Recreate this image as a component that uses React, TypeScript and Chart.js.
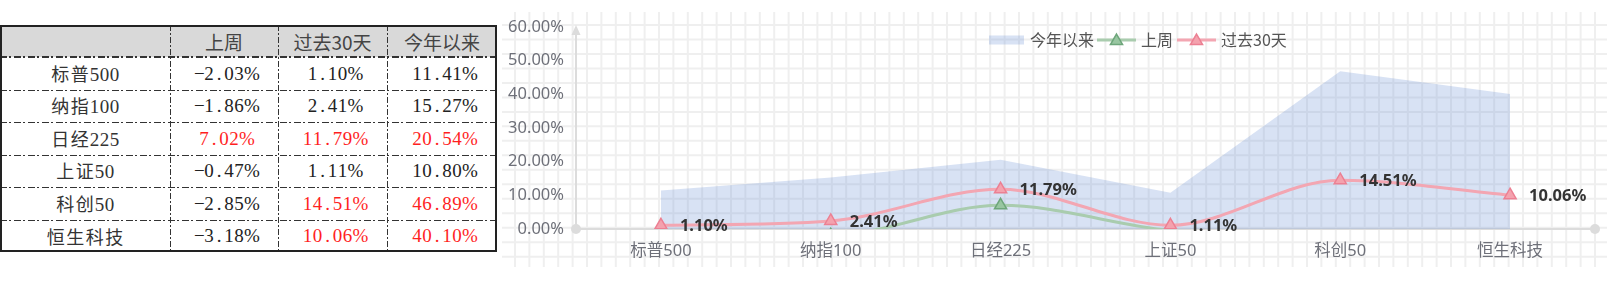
import React, { useEffect, useRef } from 'react';
import { Chart, registerables } from 'chart.js';

Chart.register(...registerables);

// ---------- data ----------
const categories = ['标普500', '纳指100', '日经225', '上证50', '科创50', '恒生科技'];
const lastWeek = [-2.03, -1.86, 7.02, -0.47, -2.85, -3.18];
const past30 = [1.1, 2.41, 11.79, 1.11, 14.51, 10.06];
const ytd = [11.41, 15.27, 20.54, 10.8, 46.89, 40.1];
const tableHeaders = ['上周', '过去30天', '今年以来'];
const seriesNames = ['今年以来', '上周', '过去30天'];
const yTickValues = [0, 10, 20, 30, 40, 50, 60];

// ---------- styles ----------
const AREA_FILL = 'rgba(100,140,210,0.25)';
const GREEN_LINE = '#a9ccae';
const GREEN_PT = '#98c6a1';
const GREEN_PT_BORDER = '#6ea67b';
const PINK_LINE = '#f3a6b2';
const PINK_PT = '#f4a2ae';
const PINK_PT_BORDER = '#ec8093';
const AXIS_COLOR = '#dcdcdc';
const LABEL_COLOR = '#6e7079';
const SANS = "'Noto Sans', 'Noto Sans CJK SC', sans-serif";
const HEADER_FONT = "'Noto Sans CJK SC', 'Noto Sans', sans-serif";
const SERIF = "'Liberation Serif', 'Noto Sans CJK SC', serif";

Chart.defaults.font.family = SANS;
Chart.defaults.font.size = 16.5;
Chart.defaults.color = LABEL_COLOR;

const fmt = (v: number) => v.toFixed(2) + '%';

function topPositive(col: number[]) {
  const sorted = [...col].sort((a, b) => b - a).slice(0, 3);
  return col.map((v) => v > 0 && sorted.includes(v));
}

const tableCols = [lastWeek, past30, ytd];
const redFlags = tableCols.map(topPositive);

// ---------- table geometry ----------
const colX = [0, 170, 278, 387, 497];
const rowY = [25, 57, 90, 122, 155, 187, 220, 252];

const hDash =
  'repeating-linear-gradient(to right, #333 0px, #333 7px, transparent 7px, transparent 9.5px, #333 9.5px, #333 11.5px, transparent 11.5px, transparent 14px)';
const vDash =
  'repeating-linear-gradient(to bottom, #333 0px, #333 6px, transparent 6px, transparent 8px, #333 8px, #333 10px, transparent 10px, transparent 12px)';

// Fixed-pitch text (like SimSun): half-width for ASCII, full width for CJK
function PitchText({ text, color }: { text: string; color: string }) {
  return (
    <span style={{ whiteSpace: 'nowrap', color }}>
      {Array.from(text).map((ch, i) => {
        const cjk = ch.charCodeAt(0) > 0x2e80;
        return (
          <span
            key={i}
            style={{
              display: 'inline-block',
              width: cjk ? 19.5 : 10,
              textAlign: 'center',
              fontFamily: cjk ? "'Noto Sans CJK SC', sans-serif" : SERIF,
              fontSize: cjk ? 18 : 19,
              lineHeight: '22px',
            }}
          >
            {ch === '-' ? '\u2212' : ch}
          </span>
        );
      })}
    </span>
  );
}

function Table() {
  const cells: React.ReactNode[] = [];
  cells.push(
    <div
      key="hbg"
      style={{
        position: 'absolute',
        left: colX[0],
        top: rowY[0],
        width: colX[4] - colX[0],
        height: rowY[1] - rowY[0],
        background: '#d9d9d9',
      }}
    />
  );
  tableHeaders.forEach((h, i) => {
    cells.push(
      <div
        key={'h' + i}
        style={{
          position: 'absolute',
          left: colX[i + 1],
          top: rowY[0],
          width: colX[i + 2] - colX[i + 1],
          height: rowY[1] - rowY[0],
          display: 'flex',
          alignItems: 'center',
          justifyContent: 'center',
          fontFamily: HEADER_FONT,
          fontSize: 19,
          color: '#444',
        }}
      >
        {h}
      </div>
    );
  });
  const cellStyle = (x0: number, x1: number, y0: number, y1: number): React.CSSProperties => ({
    position: 'absolute',
    left: x0,
    top: y0,
    width: x1 - x0,
    height: y1 - y0,
    display: 'flex',
    alignItems: 'center',
    justifyContent: 'center',
  });
  categories.forEach((c, r) => {
    cells.push(
      <div key={'c' + r} style={cellStyle(colX[0], colX[1], rowY[r + 1], rowY[r + 2])}>
        <PitchText text={c} color="#333" />
      </div>
    );
    tableCols.forEach((col, ci) => {
      cells.push(
        <div key={'v' + r + '-' + ci} style={cellStyle(colX[ci + 1], colX[ci + 2], rowY[r + 1], rowY[r + 2])}>
          <PitchText text={fmt(col[r])} color={redFlags[ci][r] ? '#ff1f1f' : '#222'} />
        </div>
      );
    });
  });
  for (let i = 1; i < rowY.length - 1; i++) {
    cells.push(
      <div
        key={'hl' + i}
        style={{
          position: 'absolute',
          left: colX[0],
          top: rowY[i] - (i === 1 ? 1 : 0),
          width: colX[4] - colX[0],
          height: i === 1 ? 2 : 1,
          background: hDash,
        }}
      />
    );
  }
  for (let i = 1; i < colX.length - 1; i++) {
    cells.push(
      <div
        key={'vl' + i}
        style={{
          position: 'absolute',
          left: colX[i],
          top: rowY[0],
          width: 1,
          height: rowY[rowY.length - 1] - rowY[0],
          background: vDash,
        }}
      />
    );
  }
  cells.push(
    <div
      key="border"
      style={{
        position: 'absolute',
        left: colX[0],
        top: rowY[0],
        width: colX[4] - colX[0],
        height: rowY[rowY.length - 1] - rowY[0],
        border: '2px solid #222',
        boxSizing: 'border-box',
      }}
    />
  );
  return <>{cells}</>;
}

// ---------- chart ----------
const CANVAS_LEFT = 500;
const CANVAS_W = 1107;
const CANVAS_H = 285;

function drawTriangle(ctx: CanvasRenderingContext2D, x: number, y: number, r: number, fill: string, stroke: string) {
  ctx.beginPath();
  let rad = 0;
  for (let i = 0; i < 3; i++) {
    const px = x + Math.sin(rad) * r;
    const py = y - Math.cos(rad) * r;
    if (i === 0) ctx.moveTo(px, py);
    else ctx.lineTo(px, py);
    rad += (2 * Math.PI) / 3;
  }
  ctx.closePath();
  ctx.fillStyle = fill;
  ctx.fill();
  ctx.lineWidth = 1.5;
  ctx.strokeStyle = stroke;
  ctx.stroke();
}

const bgGridPlugin = {
  id: 'bgGrid',
  beforeDraw(chart: any) {
    const ctx = chart.ctx as CanvasRenderingContext2D;
    ctx.save();
    ctx.strokeStyle = '#efefef';
    ctx.lineWidth = 2;
    const top = 12;
    const bottom = 267;
    for (let x = 15; x <= CANVAS_W + 1; x += 14.4) {
      ctx.beginPath();
      ctx.moveTo(x, top);
      ctx.lineTo(x, bottom);
      ctx.stroke();
    }
    for (let y = 25; y <= bottom; y += 14.48) {
      ctx.beginPath();
      ctx.moveTo(2, y);
      ctx.lineTo(CANVAS_W, y);
      ctx.stroke();
    }
    ctx.restore();
  },
};

const axesPlugin = {
  id: 'customAxes',
  beforeDatasetsDraw(chart: any) {
    const ctx = chart.ctx as CanvasRenderingContext2D;
    const { left, right, top, bottom } = chart.chartArea;
    ctx.save();
    ctx.strokeStyle = AXIS_COLOR;
    ctx.fillStyle = AXIS_COLOR;
    ctx.lineWidth = 2;
    ctx.beginPath();
    ctx.moveTo(left, bottom);
    ctx.lineTo(left, top + 4);
    ctx.stroke();
    ctx.beginPath();
    ctx.moveTo(left, top - 2);
    ctx.lineTo(left - 4.5, top + 8);
    ctx.lineTo(left + 4.5, top + 8);
    ctx.closePath();
    ctx.fill();
    ctx.beginPath();
    ctx.moveTo(left, bottom);
    ctx.lineTo(right, bottom);
    ctx.stroke();
    ctx.beginPath();
    ctx.arc(left, bottom, 5, 0, Math.PI * 2);
    ctx.fill();
    ctx.beginPath();
    ctx.arc(right, bottom, 5, 0, Math.PI * 2);
    ctx.fill();
    ctx.restore();
  },
};

const labelsPlugin = {
  id: 'pointLabels',
  afterDatasetsDraw(chart: any) {
    const ctx = chart.ctx as CanvasRenderingContext2D;
    const idx = chart.data.datasets.findIndex((d: any) => d.label === '过去30天');
    const meta = chart.getDatasetMeta(idx);
    ctx.save();
    ctx.font = `bold 16.5px ${SANS}`;
    ctx.fillStyle = '#333';
    ctx.textAlign = 'left';
    ctx.textBaseline = 'middle';
    meta.data.forEach((pt: any, i: number) => {
      ctx.fillText(fmt(past30[i]), pt.x + 19, pt.y + 1);
    });
    ctx.restore();
  },
};

const legendPlugin = {
  id: 'customLegend',
  afterDraw(chart: any) {
    const ctx = chart.ctx as CanvasRenderingContext2D;
    ctx.save();
    ctx.font = `16px ${HEADER_FONT}`;
    ctx.textBaseline = 'middle';
    ctx.textAlign = 'left';
    const cy = 40;
    let x = 489;
    ctx.fillStyle = AREA_FILL;
    ctx.fillRect(x, cy - 4.5, 35, 9);
    x += 35 + 6;
    ctx.fillStyle = '#555';
    ctx.fillText(seriesNames[0], x, cy);
    x += ctx.measureText(seriesNames[0]).width + 3;
    const lineItems = [
      { name: seriesNames[1], line: GREEN_LINE, pt: GREEN_PT, border: GREEN_PT_BORDER },
      { name: seriesNames[2], line: PINK_LINE, pt: PINK_PT, border: PINK_PT_BORDER },
    ];
    lineItems.forEach((it) => {
      ctx.strokeStyle = it.line;
      ctx.lineWidth = 3;
      ctx.beginPath();
      ctx.moveTo(x, cy);
      ctx.lineTo(x + 39, cy);
      ctx.stroke();
      drawTriangle(ctx, x + 19.5, cy + 1, 7, it.pt, it.border);
      x += 39 + 5;
      ctx.fillStyle = '#555';
      ctx.fillText(it.name, x, cy);
      x += ctx.measureText(it.name).width + 4;
    });
    ctx.restore();
  },
};

function LineChart() {
  const ref = useRef<HTMLCanvasElement | null>(null);
  useEffect(() => {
    if (!ref.current) return;
    const chart = new Chart(ref.current, {
      type: 'line',
      data: {
        labels: categories,
        datasets: [
          {
            label: '过去30天',
            data: past30,
            order: 1,
            borderColor: PINK_LINE,
            borderWidth: 3,
            cubicInterpolationMode: 'monotone',
            pointStyle: 'triangle',
            pointRadius: 7,
            pointBackgroundColor: PINK_PT,
            pointBorderColor: PINK_PT_BORDER,
            pointBorderWidth: 1.5,
            fill: false,
          },
          {
            label: '上周',
            data: lastWeek,
            order: 2,
            borderColor: GREEN_LINE,
            borderWidth: 3,
            cubicInterpolationMode: 'monotone',
            pointStyle: 'triangle',
            pointRadius: 7,
            pointBackgroundColor: GREEN_PT,
            pointBorderColor: GREEN_PT_BORDER,
            pointBorderWidth: 1.5,
            fill: false,
          },
          {
            label: '今年以来',
            data: ytd,
            order: 3,
            borderWidth: 0,
            borderColor: 'rgba(0,0,0,0)',
            backgroundColor: AREA_FILL,
            pointRadius: 0,
            tension: 0,
            fill: 'origin',
          },
        ],
      } as any,
      options: {
        responsive: false,
        animation: false,
        events: [],
        devicePixelRatio: 1,
        layout: { padding: { left: 0, right: 12, top: 27, bottom: 0 } },
        plugins: {
          legend: { display: false },
          tooltip: { enabled: false },
          title: { display: false },
        },
        scales: {
          x: {
            type: 'category',
            offset: true,
            grid: { display: false, drawTicks: false },
            border: { display: false },
            ticks: {
              color: LABEL_COLOR,
              font: { size: 16.5, family: SANS },
              padding: 12,
              maxRotation: 0,
              autoSkip: false,
            },
            afterFit(scale: any) {
              scale.height = 56;
            },
          },
          y: {
            min: 0,
            max: 60,
            grid: { display: false, drawTicks: false },
            border: { display: false },
            afterBuildTicks(scale: any) {
              scale.ticks = yTickValues.map((v) => ({ value: v }));
            },
            ticks: {
              color: LABEL_COLOR,
              font: { size: 16.5, family: SANS },
              padding: 12,
              callback: (v: any) => Number(v).toFixed(2) + '%',
            },
            afterFit(scale: any) {
              scale.width = 76;
            },
          },
        },
      } as any,
      plugins: [bgGridPlugin, axesPlugin, labelsPlugin, legendPlugin],
    });
    return () => chart.destroy();
  }, []);
  return (
    <canvas
      ref={ref}
      width={CANVAS_W}
      height={CANVAS_H}
      style={{ position: 'absolute', left: CANVAS_LEFT, top: 0, width: CANVAS_W, height: CANVAS_H }}
    />
  );
}

export default function App() {
  return (
    <div
      style={{
        position: 'fixed',
        left: 0,
        top: 0,
        width: 1607,
        height: 285,
        background: '#fff',
        overflow: 'hidden',
      }}
    >
      <Table />
      <LineChart />
    </div>
  );
}
